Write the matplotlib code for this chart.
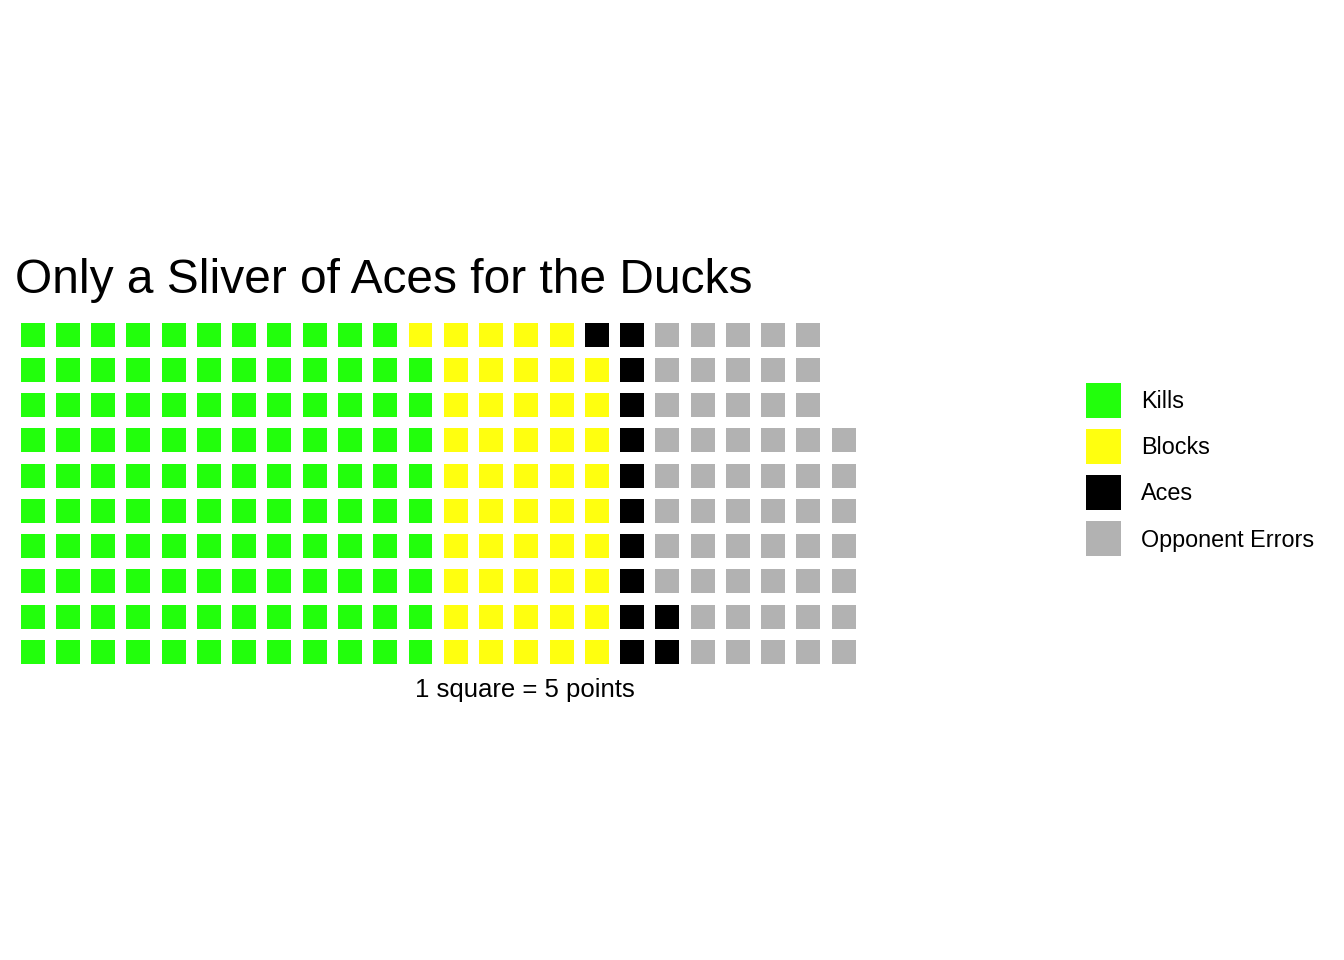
import matplotlib
matplotlib.use("Agg")
import matplotlib.pyplot as plt
from matplotlib.patches import Rectangle

plt.rcParams['font.family'] = ['Liberation Sans', 'DejaVu Sans']

categories = ["Kills", "Blocks", "Aces", "Opponent Errors"]
squares = [119, 50, 13, 55]
colors = ["#22FF0C", "#FFFF0F", "#000000", "#B2B2B2"]
n_rows = 10
title = "Only a Sliver of Aces for the Ducks"
xlabel = "1 square = 5 points"

W, H = 1344, 960
fig = plt.figure(figsize=(W / 100, H / 100), dpi=100)

# main waffle panel (pixel coordinates -> figure fractions)
pitch = 35.26
total = sum(squares)
n_cols = -(-total // n_rows)
left_px, top_px = 15, 317
ax = fig.add_axes([left_px / W, 1 - (top_px + n_rows * pitch) / H,
                   n_cols * pitch / W, n_rows * pitch / H])
side = 0.68
k = 0
for cat, n, c in zip(categories, squares, colors):
    for _ in range(n):
        col, row = k // n_rows, k % n_rows
        ax.add_patch(Rectangle((col - side / 2, row - side / 2), side, side,
                               facecolor=c, edgecolor='none'))
        k += 1
ax.set_xlim(-0.5, n_cols - 0.5)
ax.set_ylim(-0.5, n_rows - 0.5)
ax.axis('off')

fig.text(left_px / W, 1 - 280 / H, title, fontsize=34.5, ha='left', va='center')
fig.text(525 / W, 1 - 690 / H, xlabel, fontsize=18.5, ha='center', va='center')

# legend
lax = fig.add_axes([0, 0, 1, 1])
lax.set_xlim(0, W)
lax.set_ylim(H, 0)
lax.axis('off')
for i, (cat, c) in enumerate(zip(categories, colors)):
    yc = 400 + i * 46
    lax.add_patch(Rectangle((1086, yc - 17.5), 35, 35, facecolor=c, edgecolor='none'))
    lax.text(1141, yc + 2, cat, fontsize=16.8, ha='left', va='center')

fig.savefig("out.png", dpi=100)
